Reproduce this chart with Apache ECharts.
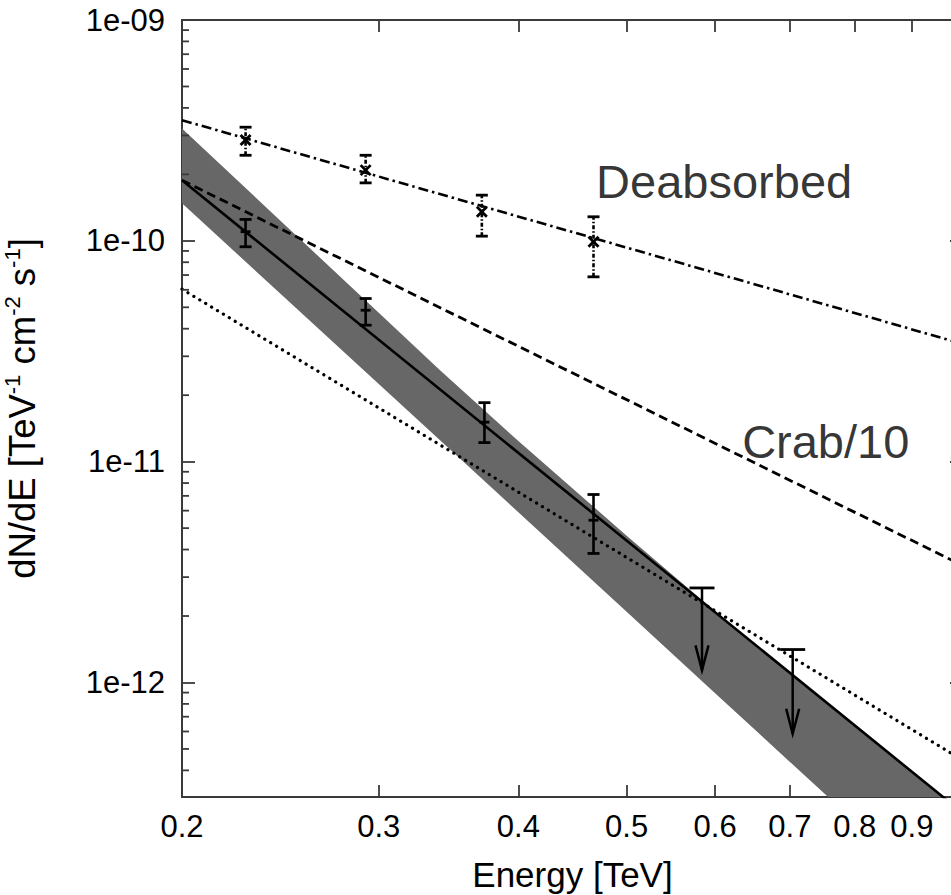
<!DOCTYPE html>
<html>
<head>
<meta charset="utf-8">
<script src="https://cdn.jsdelivr.net/npm/echarts@6/dist/echarts.min.js"></script>
<style>
  html, body { margin: 0; padding: 0; background: #fff; overflow: hidden; }
  #chart { width: 951px; height: 895px; }
</style>
</head>
<body>
<div id="chart"></div>
<script>
// ---- axes ----
const energyRange = [0.2, 1.0];          // TeV
const fluxRange = [3.03e-13, 1e-9];      // TeV^-1 cm^-2 s^-1
const energyTicks = [0.2, 0.3, 0.4, 0.5, 0.6, 0.7, 0.8, 0.9, 1.0];
const energyTickLabels = [0.2, 0.3, 0.4, 0.5, 0.6, 0.7, 0.8, 0.9];
const fluxDecades = [1e-12, 1e-11, 1e-10, 1e-9];
const fluxMinorTicks = [
  4e-13, 5e-13, 6e-13, 7e-13, 8e-13, 9e-13,
  2e-12, 3e-12, 4e-12, 5e-12, 6e-12, 7e-12, 8e-12, 9e-12,
  2e-11, 3e-11, 4e-11, 5e-11, 6e-11, 7e-11, 8e-11, 9e-11,
  2e-10, 3e-10, 4e-10, 5e-10, 6e-10, 7e-10, 8e-10, 9e-10
];

// ---- power-law lines, flux at the two ends of the energy range ----
const lineEnergy = [0.2, 1.0];
const fitFlux = [1.88e-10, 2.56e-13];          // measured spectrum fit (solid)
const crabTenthFlux = [1.88e-10, 3.38e-12];    // Crab/10 (dashed)
const deabsorbedFitFlux = [3.52e-10, 3.41e-11];// deabsorbed fit (dash-dot)
const dottedFlux = [6.04e-11, 4.44e-13];       // dotted reference spectrum

// ---- fit uncertainty band ----
const bandEnergy = [0.2, 0.25, 0.3, 0.34, 0.4, 0.5, 0.6, 0.7, 0.8, 0.9, 1.0];
const bandUpper = [3.23e-10, 1.12e-10, 4.73e-11, 2.61e-11, 1.24e-11, 4.62e-12, 2.1e-12, 1.106e-12, 6.39e-13, 3.95e-13, 2.56e-13];
const bandLower = [1.48e-10, 5.24e-11, 2.25e-11, 1.255e-11, 5.9e-12, 2.09e-12, 8.95e-13, 4.37e-13, 2.35e-13, 1.36e-13, 8.3e-14];

// ---- measured points ----
const measuredEnergy = [0.228, 0.292, 0.373, 0.467];
const measuredFlux = [1.10e-10, 4.85e-11, 1.51e-11, 5.43e-12];
const measuredLow = [9.4e-11, 4.15e-11, 1.22e-11, 3.84e-12];
const measuredHigh = [1.25e-10, 5.48e-11, 1.85e-11, 7.1e-12];

// ---- deabsorbed points ----
const deabsEnergy = [0.228, 0.292, 0.371, 0.467];
const deabsFlux = [2.86e-10, 2.09e-10, 1.353e-10, 9.9e-11];
const deabsLow = [2.44e-10, 1.83e-10, 1.05e-10, 6.87e-11];
const deabsHigh = [3.27e-10, 2.44e-10, 1.61e-10, 1.285e-10];

// ---- upper limits ----
const limitEnergy = [0.584, 0.704];
const limitFlux = [2.68e-12, 1.41e-12];
const limitArrowTip = [1.135e-12, 5.86e-13];

// ---- text annotations ----
const annotationText = ['Deabsorbed', 'Crab/10'];
const annotationEnergy = [0.470, 0.635];
const annotationFlux = [1.854e-10, 1.23e-11];

const FONT = '"Liberation Sans", Arial, Helvetica, sans-serif';
const AXIS_COLOR = '#3a3a3a';

function pairs(xs, ys) { return xs.map((x, i) => [x, ys[i]]); }

function fluxLabel(v) {
  const e = Math.round(Math.log10(v));
  return '1e' + (e < 0 ? '-' : '+') + String(Math.abs(e)).padStart(2, '0');
}

function xAxisDef(position, showLabels) {
  return {
    type: 'log', position: position, min: energyRange[0], max: energyRange[1],
    axisLine: { show: true, lineStyle: { color: AXIS_COLOR, width: 2 } },
    axisTick: { show: true, inside: true, length: 12, customValues: energyTicks,
                lineStyle: { color: AXIS_COLOR, width: 1.8 } },
    axisLabel: showLabels ? {
      show: true, customValues: energyTickLabels, margin: 14,
      fontSize: 31, fontFamily: FONT, color: '#000',
      formatter: v => String(+Number(v).toFixed(1))
    } : { show: false },
    splitLine: { show: false },
    name: showLabels ? 'Energy [TeV]' : '',
    nameLocation: 'middle', nameGap: 60,
    nameTextStyle: { fontSize: 35, fontFamily: FONT, color: '#000' }
  };
}

function yAxisDef(position, withName) {
  const def = {
    type: 'log', position: position, min: fluxRange[0], max: fluxRange[1],
    axisLine: { show: true, lineStyle: { color: AXIS_COLOR, width: 2 } },
    axisTick: { show: true, inside: true, length: 13, customValues: fluxDecades,
                lineStyle: { color: AXIS_COLOR, width: 1.8 } },
    axisLabel: { show: false },
    splitLine: { show: false }
  };
  if (withName) {
    def.axisLabel = {
      show: true, customValues: fluxDecades, margin: 17,
      fontSize: 31, fontFamily: FONT, color: '#000', formatter: fluxLabel
    };
    def.name = '{m|dN/dE [TeV}{s|-1}{m| cm}{s|-2}{m| s}{s|-1}{m|]}';
    def.nameLocation = 'middle';
    def.nameGap = 139;
    def.nameTextStyle = {
      rich: {
        m: { fontSize: 36.5, lineHeight: 42, fontFamily: FONT, color: '#000' },
        s: { fontSize: 22, lineHeight: 22, verticalAlign: 'top', fontFamily: FONT, color: '#000' }
      }
    };
  }
  return def;
}

// short inward minor ticks along the left and right frame edges
function renderMinorTick(params, api) {
  const p = api.coord([api.value(0), api.value(1)]);
  const dir = api.value(0) <= energyRange[0] ? 1 : -1;
  return {
    type: 'line',
    shape: { x1: p[0], y1: p[1], x2: p[0] + dir * 7, y2: p[1] },
    style: { stroke: AXIS_COLOR, lineWidth: 1.8 }
  };
}

// band polygon between the upper and lower edges
function renderBand(params, api) {
  if (params.dataIndex !== 0) return null;
  const pts = [];
  for (let i = 0; i < bandEnergy.length; i++) pts.push(api.coord([bandEnergy[i], bandUpper[i]]));
  for (let i = bandEnergy.length - 1; i >= 0; i--) pts.push(api.coord([bandEnergy[i], bandLower[i]]));
  return { type: 'polygon', shape: { points: pts }, style: { fill: '#676767', stroke: null } };
}

function renderErrorBar(dash, cross) {
  return function (params, api) {
    const c = api.coord([api.value(0), api.value(1)]);
    const lo = api.coord([api.value(0), api.value(2)]);
    const hi = api.coord([api.value(0), api.value(3)]);
    const x = c[0];
    const st = { stroke: '#000', lineWidth: 2.6, lineDash: dash };
    const cap = { stroke: '#000', lineWidth: 2.8 };
    const children = [
      { type: 'line', shape: { x1: x, y1: lo[1], x2: x, y2: hi[1] }, style: st },
      { type: 'line', shape: { x1: x - 6, y1: lo[1], x2: x + 6, y2: lo[1] }, style: cap },
      { type: 'line', shape: { x1: x - 6, y1: hi[1], x2: x + 6, y2: hi[1] }, style: cap }
    ];
    if (cross) {
      children.push({ type: 'line', shape: { x1: x - 5, y1: c[1] - 5, x2: x + 5, y2: c[1] + 5 }, style: cap });
      children.push({ type: 'line', shape: { x1: x - 5, y1: c[1] + 5, x2: x + 5, y2: c[1] - 5 }, style: cap });
    } else {
      children.push({ type: 'line', shape: { x1: x - 5, y1: c[1], x2: x + 5, y2: c[1] }, style: cap });
    }
    return { type: 'group', children: children };
  };
}

function renderLimit(params, api) {
  const top = api.coord([api.value(0), api.value(1)]);
  const tip = api.coord([api.value(0), api.value(2)]);
  const x = top[0];
  const st = { stroke: '#000', lineWidth: 2.5, fill: null };
  return {
    type: 'group',
    children: [
      { type: 'line', shape: { x1: x - 12.5, y1: top[1], x2: x + 12.5, y2: top[1] }, style: { stroke: '#000', lineWidth: 2.8 } },
      { type: 'line', shape: { x1: x, y1: top[1], x2: x, y2: tip[1] }, style: st },
      { type: 'polyline', shape: { points: [[x - 6.5, tip[1] - 25], [x, tip[1]], [x + 6.5, tip[1] - 25]] }, style: st }
    ]
  };
}

const minorTickData = fluxMinorTicks.map(v => [energyRange[0], v])
  .concat(fluxMinorTicks.map(v => [energyRange[1], v]));

const chart = echarts.init(document.getElementById('chart'), null, { renderer: 'svg' });
chart.setOption({
  animation: false,
  backgroundColor: '#ffffff',
  grid: { left: 182, right: -12, top: 20, bottom: 98, outerBoundsMode: 'none' },
  xAxis: [xAxisDef('bottom', true), xAxisDef('top', false)],
  yAxis: [yAxisDef('left', true), yAxisDef('right', false)],
  series: [
    {
      name: 'Minor ticks', type: 'custom', silent: true, clip: false,
      data: minorTickData, encode: { x: 0, y: 1 },
      renderItem: renderMinorTick, z: 6
    },
    {
      name: 'Fit band', type: 'custom', clip: true, silent: true,
      data: bandEnergy.map((e, i) => [e, bandLower[i], bandUpper[i]]),
      encode: { x: 0, y: [1, 2] },
      renderItem: renderBand, z: 1
    },
    {
      name: 'Dotted', type: 'line', data: pairs(lineEnergy, dottedFlux), showSymbol: false, clip: true,
      lineStyle: { color: '#000', width: 3.2, type: [0.1, 6.8], cap: 'round' }, z: 2
    },
    {
      name: 'Crab/10', type: 'line', data: pairs(lineEnergy, crabTenthFlux), showSymbol: false, clip: true,
      lineStyle: { color: '#000', width: 2.8, type: [9, 5] }, z: 2
    },
    {
      name: 'Deabsorbed fit', type: 'line', data: pairs(lineEnergy, deabsorbedFitFlux), showSymbol: false, clip: true,
      lineStyle: { color: '#000', width: 2.6, type: [10, 4, 2.5, 4] }, z: 2
    },
    {
      name: 'Fit', type: 'line', data: pairs(lineEnergy, fitFlux), showSymbol: false, clip: true,
      lineStyle: { color: '#000', width: 2.6 }, z: 3
    },
    {
      name: 'Measured', type: 'custom', clip: true,
      data: measuredEnergy.map((e, i) => [e, measuredFlux[i], measuredLow[i], measuredHigh[i]]),
      encode: { x: 0, y: [1, 2, 3] },
      renderItem: renderErrorBar(null, false), z: 4
    },
    {
      name: 'Deabsorbed', type: 'custom', clip: true,
      data: deabsEnergy.map((e, i) => [e, deabsFlux[i], deabsLow[i], deabsHigh[i]]),
      encode: { x: 0, y: [1, 2, 3] },
      renderItem: renderErrorBar([4, 2, 1.5, 2], true), z: 4
    },
    {
      name: 'Upper limits', type: 'custom', clip: true,
      data: limitEnergy.map((e, i) => [e, limitFlux[i], limitArrowTip[i]]),
      encode: { x: 0, y: [1, 2] },
      renderItem: renderLimit, z: 4
    },
    {
      name: 'Annotations', type: 'scatter', silent: true,
      symbolSize: 1, itemStyle: { color: 'rgba(0,0,0,0)' },
      data: annotationText.map((t, i) => ({ value: [annotationEnergy[i], annotationFlux[i]], name: t })),
      label: {
        show: true, position: [0, 0], align: 'left', verticalAlign: 'middle',
        formatter: p => p.name, fontSize: 47, fontFamily: FONT, color: '#000'
      },
      z: 5
    }
  ]
});
</script>
</body>
</html>
